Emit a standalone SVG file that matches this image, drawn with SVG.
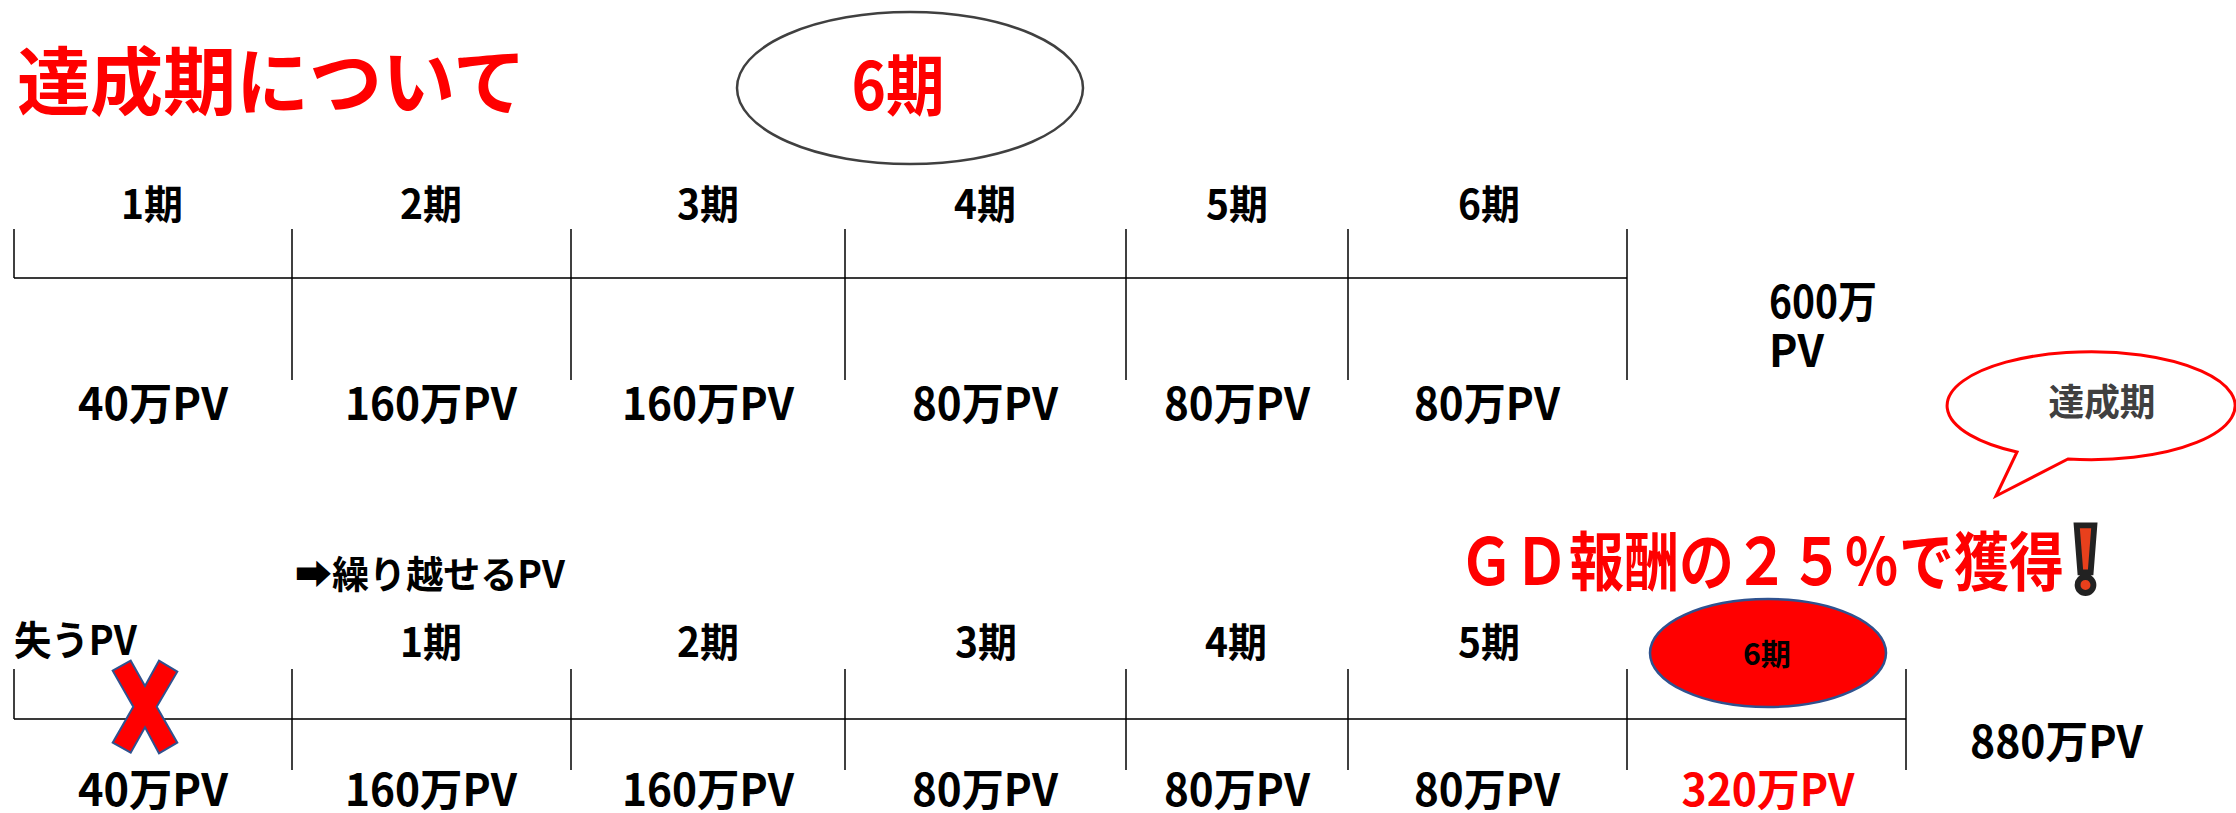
<svg xmlns="http://www.w3.org/2000/svg" width="2236" height="813" viewBox="0 0 2236 813">
<style>
  text { font-family: "Noto Sans CJK JP", "Noto Sans", sans-serif; font-weight: 700; }
  .lbl { font-size: 40px; fill: #000; text-anchor: middle; }
  .pv { font-size: 44px; fill: #000; text-anchor: middle; }
  .red { fill: #FF0000; }
  .axis { stroke: #3a3a3a; stroke-width: 2.2; fill: none; }
  .tick { stroke: #000; stroke-width: 1.5; fill: none; }
</style>
<rect width="2236" height="813" fill="#fff"/>

<g id="title">
  <text x="17" y="109" font-size="74" class="red" textLength="509" lengthAdjust="spacingAndGlyphs">達成期について</text>
</g>

<g id="ellipse-6ki">
  <ellipse cx="910" cy="88" rx="173" ry="76" fill="#fff" stroke="#404040" stroke-width="2.5"/>
  <text x="898" y="110" font-size="66" class="red" text-anchor="middle" textLength="93" lengthAdjust="spacingAndGlyphs">6期</text>
</g>

<g id="connectors">
  <line class="axis" x1="14" y1="278" x2="1627" y2="278"/>
  <line class="tick" x1="14" y1="229" x2="14" y2="278"/>
  <line class="tick" x1="292" y1="229" x2="292" y2="380"/>
  <line class="tick" x1="571" y1="229" x2="571" y2="380"/>
  <line class="tick" x1="845" y1="229" x2="845" y2="380"/>
  <line class="tick" x1="1126" y1="229" x2="1126" y2="380"/>
  <line class="tick" x1="1348" y1="229" x2="1348" y2="380"/>
  <line class="tick" x1="1627" y1="229" x2="1627" y2="380"/>

  <line class="axis" x1="14" y1="719" x2="1906" y2="719"/>
  <line class="tick" x1="14" y1="669" x2="14" y2="719"/>
  <line class="tick" x1="292" y1="669" x2="292" y2="770"/>
  <line class="tick" x1="571" y1="669" x2="571" y2="770"/>
  <line class="tick" x1="845" y1="669" x2="845" y2="770"/>
  <line class="tick" x1="1126" y1="669" x2="1126" y2="770"/>
  <line class="tick" x1="1348" y1="669" x2="1348" y2="770"/>
  <line class="tick" x1="1627" y1="669" x2="1627" y2="770"/>
  <line class="tick" x1="1906" y1="669" x2="1906" y2="770"/>
</g>

<g id="top-periods">
  <text class="lbl" x="152" y="219" textLength="62" lengthAdjust="spacingAndGlyphs">1期</text>
  <text class="lbl" x="431" y="219" textLength="62" lengthAdjust="spacingAndGlyphs">2期</text>
  <text class="lbl" x="708" y="219" textLength="62" lengthAdjust="spacingAndGlyphs">3期</text>
  <text class="lbl" x="985" y="219" textLength="62" lengthAdjust="spacingAndGlyphs">4期</text>
  <text class="lbl" x="1237" y="219" textLength="62" lengthAdjust="spacingAndGlyphs">5期</text>
  <text class="lbl" x="1489" y="219" textLength="62" lengthAdjust="spacingAndGlyphs">6期</text>
</g>

<g id="top-pv">
  <text class="pv" x="153" y="420" textLength="150" lengthAdjust="spacingAndGlyphs">40万PV</text>
  <text class="pv" x="431" y="420" textLength="172" lengthAdjust="spacingAndGlyphs">160万PV</text>
  <text class="pv" x="708" y="420" textLength="172" lengthAdjust="spacingAndGlyphs">160万PV</text>
  <text class="pv" x="985" y="420" textLength="146" lengthAdjust="spacingAndGlyphs">80万PV</text>
  <text class="pv" x="1237" y="420" textLength="146" lengthAdjust="spacingAndGlyphs">80万PV</text>
  <text class="pv" x="1487" y="420" textLength="146" lengthAdjust="spacingAndGlyphs">80万PV</text>
</g>

<g id="total-600">
  <text x="1769" y="318" font-size="44" fill="#000" textLength="108" lengthAdjust="spacingAndGlyphs">600万</text>
  <text x="1769" y="367" font-size="44" fill="#000" textLength="55" lengthAdjust="spacingAndGlyphs">PV</text>
</g>

<g id="bubble">
  <path d="M2017,452 A144,54 0 1 1 2068,459 L1996,496 Z" fill="#fff" stroke="#FF0000" stroke-width="3" stroke-linejoin="miter"/>
  <text x="2102" y="416" font-size="37" fill="#404040" text-anchor="middle" textLength="107" lengthAdjust="spacingAndGlyphs">達成期</text>
</g>

<g id="gd-reward">
  <text x="1459" y="585" font-size="64" class="red" textLength="605" lengthAdjust="spacingAndGlyphs">ＧＤ報酬の２５％で獲得</text>
  <text x="2085" y="592" font-size="92" fill="#E8401C" stroke="#222" stroke-width="3" text-anchor="middle" style="font-family:'DejaVu Sans',sans-serif">&#x2757;&#xFE0E;</text>
</g>

<g id="carry-label">
  <text x="295" y="588" font-size="38" fill="#000" textLength="270" lengthAdjust="spacingAndGlyphs">➡繰り越せるPV</text>
</g>

<g id="lost-label">
  <text x="14" y="655" font-size="40" fill="#000" textLength="123" lengthAdjust="spacingAndGlyphs">失うPV</text>
</g>

<g id="bottom-periods">
  <text class="lbl" x="431" y="657" textLength="62" lengthAdjust="spacingAndGlyphs">1期</text>
  <text class="lbl" x="708" y="657" textLength="62" lengthAdjust="spacingAndGlyphs">2期</text>
  <text class="lbl" x="986" y="657" textLength="62" lengthAdjust="spacingAndGlyphs">3期</text>
  <text class="lbl" x="1236" y="657" textLength="62" lengthAdjust="spacingAndGlyphs">4期</text>
  <text class="lbl" x="1489" y="657" textLength="62" lengthAdjust="spacingAndGlyphs">5期</text>
</g>

<g id="goal-6ki">
  <ellipse cx="1768" cy="653" rx="118" ry="54" fill="#FF0000" stroke="#2F528F" stroke-width="2.5"/>
  <text x="1767" y="665" font-size="30" fill="#000" text-anchor="middle" textLength="48" lengthAdjust="spacingAndGlyphs">6期</text>
</g>

<g id="cross">
  <polygon points="112.7,670.7 130.7,660.7 145,686 159,660.7 177.3,671.7 156.7,706.7 177.3,742.7 159,753.3 145,727.3 130.7,752.7 112.7,742.7 133.3,706.7" fill="#FF0000" stroke="#2F528F" stroke-width="2"/>
</g>

<g id="bottom-pv">
  <text class="pv" x="153" y="806" textLength="150" lengthAdjust="spacingAndGlyphs">40万PV</text>
  <text class="pv" x="431" y="806" textLength="172" lengthAdjust="spacingAndGlyphs">160万PV</text>
  <text class="pv" x="708" y="806" textLength="172" lengthAdjust="spacingAndGlyphs">160万PV</text>
  <text class="pv" x="985" y="806" textLength="146" lengthAdjust="spacingAndGlyphs">80万PV</text>
  <text class="pv" x="1237" y="806" textLength="146" lengthAdjust="spacingAndGlyphs">80万PV</text>
  <text class="pv" x="1487" y="806" textLength="146" lengthAdjust="spacingAndGlyphs">80万PV</text>
  <text class="pv red" x="1768" y="806" textLength="173" lengthAdjust="spacingAndGlyphs">320万PV</text>
</g>

<g id="total-880">
  <text x="1970" y="758" font-size="44" fill="#000" textLength="173" lengthAdjust="spacingAndGlyphs">880万PV</text>
</g>
</svg>
